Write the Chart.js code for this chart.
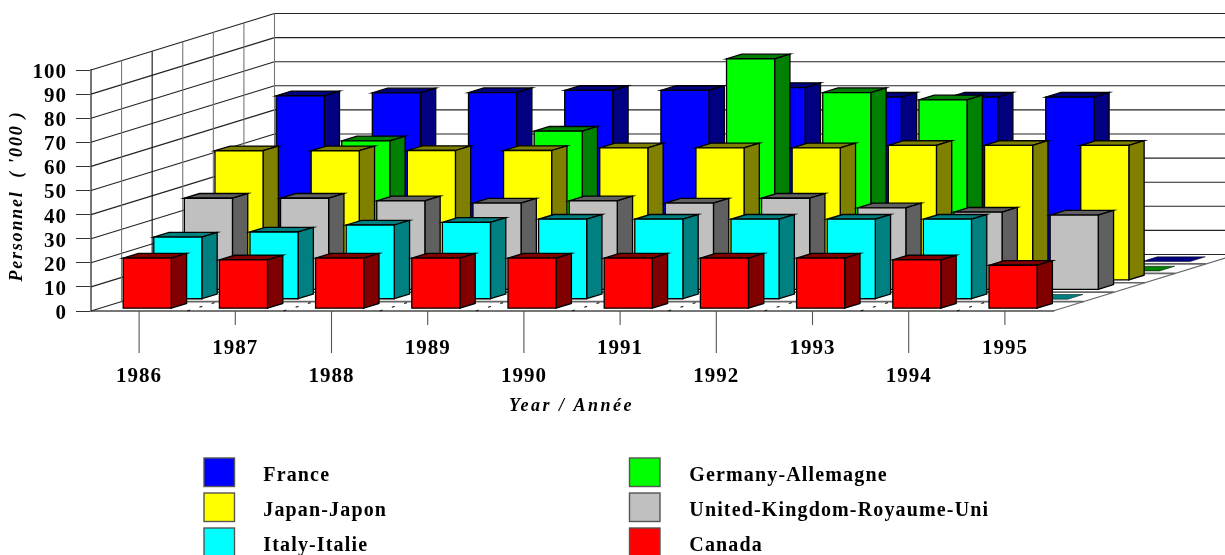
<!DOCTYPE html>
<html><head><meta charset="utf-8">
<style>html,body{margin:0;padding:0;background:#fff;overflow:hidden}canvas{display:block}</style>
<script src="https://cdn.jsdelivr.net/npm/chart.js@4/dist/chart.umd.min.js"></script>
</head><body><canvas id="c" width="1225" height="555"></canvas>
<script>
const years = ['1986','1987','1988','1989','1990','1991','1992','1993','1994','1995'];
const france  = [68.8,70,70.1,71,71,72.2,68.2,68.2,68.2,0];
const germany = [0,54,0,58,0,88,74,71,0,0];
const japan   = [53.8,53.8,53.9,53.9,55,55,55,56,56,56];
const uk      = [38,38,36.9,36,36.9,36,38,34,32.2,31];
const italy   = [25.8,27.9,30.8,31.9,33.2,33.2,33.2,33.2,33.2,0];
const canada  = [21,20.2,21,21,21,21,21,21,20.2,18];
const seriesNames = ['France','Germany-Allemagne','Japan-Japon','United-Kingdom-Royaume-Uni','Italy-Italie','Canada'];
const seriesValues = [france,germany,japan,uk,italy,canada];
const faceColors = ['#0000ff','#00ff00','#ffff00','#c0c0c0','#00ffff','#ff0000'];
const shadeColors = ['#000080','#008000','#808000','#606060','#008080','#800000'];
const yTitle = "Personnel  ( '000 )";
const xTitle = 'Year / Année';

const DX = 183.5, DY = -56.5, SLOTS = 6;
const SX = DX/SLOTS, SY = DY/SLOTS;
const LS = '1px';

function seg(ctx,x1,y1,x2,y2){ctx.beginPath();ctx.moveTo(x1,y1);ctx.lineTo(x2,y2);ctx.stroke();}
function poly(ctx,pts,fill){
  ctx.beginPath();pts.forEach((p,i)=>i?ctx.lineTo(p[0],p[1]):ctx.moveTo(p[0],p[1]));ctx.closePath();
  ctx.fillStyle=fill;ctx.fill();ctx.stroke();
}
const scene = {
  id:'scene',
  beforeDraw(chart){ chart.ctx.letterSpacing = LS; },
  beforeDatasetsDraw(chart){
    const {ctx,chartArea:a,scales:{y}} = chart;
    ctx.save();
    ctx.strokeStyle='#222';ctx.lineWidth=1.1;
    const vals = y.ticks.map(t=>t.value);
    vals.forEach(v=>{
      const p=y.getPixelForValue(v);
      seg(ctx,a.left,p,a.left+DX,p+DY);
      seg(ctx,a.left+DX,p+DY,a.right+DX,p+DY);
    });
    for(let k=1;k<=SLOTS;k++){
      ctx.strokeStyle=k===2?'#111':'#777';
      const x=a.left+k*SX;
      seg(ctx,x,y.getPixelForValue(100)+k*SY,x,a.bottom+k*SY);
    }
    ctx.strokeStyle='#666';ctx.lineWidth=1.6;
    for(let k=1;k<SLOTS;k++) seg(ctx,a.left+k*SX,a.bottom+k*SY,a.right+k*SX,a.bottom+k*SY);
    ctx.strokeStyle='#222';ctx.lineWidth=1.2;
    const step=(a.right-a.left)/years.length;
    ctx.setLineDash([3,9.8]);
    for(let i=1;i<years.length;i++) seg(ctx,a.left+i*step,a.bottom,a.left+i*step+DX,a.bottom+DY);
    ctx.setLineDash([]);
    ctx.strokeStyle='#666';
    seg(ctx,a.right,a.bottom,a.right+DX,a.bottom+DY);
    ctx.restore();
  },
  beforeDatasetDraw(chart,args){
    const ctx=chart.ctx, i=args.index, s=SLOTS-1-i, off=s+0.25;
    ctx.save();
    ctx.strokeStyle='#000';ctx.lineJoin='miter';
    args.meta.data.forEach(el=>{
      const {x,y,base,width}=el.getProps(['x','y','base','width'],true);
      const x0=x-width/2+off*SX+0.5, x1=x0+width, yT=y+off*SY, yB=base+off*SY, dx=SX/2, dy=SY/2;
      const flat=Math.abs(yB-yT)<1;
      ctx.lineWidth=flat?0.5:1.3;
      poly(ctx,[[x0,yT],[x0+dx,yT+dy],[x1+dx,yT+dy],[x1,yT]],shadeColors[i]);
      if(!flat){
        poly(ctx,[[x1,yT],[x1+dx,yT+dy],[x1+dx,yB+dy],[x1,yB]],shadeColors[i]);
        poly(ctx,[[x0,yT],[x1,yT],[x1,yB],[x0,yB]],faceColors[i]);
      }
    });
    ctx.restore();
    return false;
  },
  afterDraw(chart){
    const {ctx,chartArea:a,scales:{x}} = chart;
    ctx.save();
    ctx.strokeStyle='#555';ctx.lineWidth=1.1;
    years.forEach((_,i)=>{
      const px=x.getPixelForValue(i);
      seg(ctx,px,a.bottom,px,a.bottom+(i%2?14:42));
    });
    ctx.fillStyle='#000';ctx.letterSpacing='2.5px';
    ctx.font='italic bold 18px "Liberation Serif"';
    ctx.textAlign='center';ctx.textBaseline='alphabetic';
    ctx.fillText(xTitle,571.5,411);
    ctx.letterSpacing='1.8px';
    ctx.save();ctx.translate(22,196);ctx.rotate(-Math.PI/2);ctx.fillText(yTitle,0,0);ctx.restore();
    ctx.letterSpacing='1.15px';
    ctx.font='bold 20px "Liberation Serif"';ctx.textAlign='left';
    chart.data.datasets.forEach((d,i)=>{
      const col=i%2,row=Math.floor(i/2);
      const bx=col?629.5:204, by=458+row*35;
      ctx.fillStyle=d.backgroundColor;ctx.strokeStyle='#555';ctx.lineWidth=1.4;
      ctx.fillRect(bx,by,30.5,28.5);ctx.strokeRect(bx,by,30.5,28.5);
      ctx.fillStyle='#000';
      ctx.fillText(d.label,col?689.3:263.3,480.7+row*35);
    });
    ctx.restore();
  }
};
const tickFont={family:'"Liberation Serif"',weight:'bold',size:21};
new Chart(document.getElementById('c'),{
  type:'bar',
  data:{labels:years,datasets:seriesNames.map((n,i)=>({
    label:n,data:seriesValues[i],backgroundColor:faceColors[i],order:SLOTS-i,clip:false,
    grouped:false,barPercentage:0.5,categoryPercentage:1
  }))},
  plugins:[scene],
  options:{
    responsive:false,animation:false,events:[],
    layout:{padding:{top:70,right:172,left:0,bottom:0}},
    plugins:{legend:{display:false},tooltip:{enabled:false},title:{display:false}},
    scales:{
      x:{type:'category',
        afterFit(s){s.height=244;},
        grid:{display:true,drawOnChartArea:false,drawTicks:false},
        border:{display:true,color:'#777',width:2},
        ticks:{autoSkip:false,maxRotation:0,minRotation:0,color:'#000',padding:24,
          font:{...tickFont,lineHeight:'28px'},
          callback(v,i){const l=this.getLabelForValue(v);return i%2?[l,'']:['',l];}}
      },
      y:{type:'linear',min:0,max:100,
        afterFit(s){s.width=91;},
        grid:{drawOnChartArea:false,tickLength:15,tickColor:'#333',tickWidth:1},
        border:{display:true,color:'#777',width:2},
        ticks:{stepSize:10,autoSkip:false,color:'#000',padding:9,
          font:{...tickFont,lineHeight:'5px'},
          callback(v){return ['',String(v)];}}
      }
    }
  }
});
</script></body></html>
